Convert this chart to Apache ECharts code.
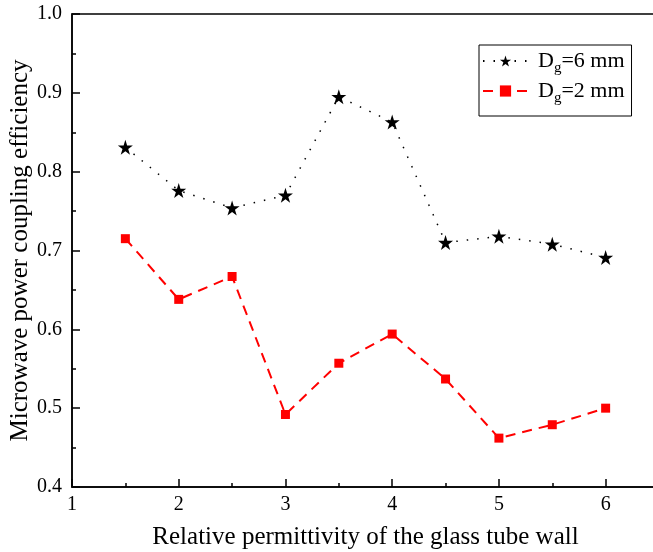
<!DOCTYPE html>
<html>
<head>
<meta charset="utf-8">
<script src="https://cdn.jsdelivr.net/npm/echarts@6/dist/echarts.min.js"></script>
<style>
html, body { margin: 0; padding: 0; background: #fff; overflow: hidden; }
#main { width: 680px; height: 552px; }
</style>
</head>
<body>
<div id="main"></div>
<script>
// relative permittivity (x)
var permittivity = [1.5, 2, 2.5, 3, 3.5, 4, 4.5, 5, 5.5, 6];
// coupling efficiency, Dg = 6 mm
var eff6mm = [0.831, 0.776, 0.754, 0.770, 0.895, 0.863, 0.710, 0.718, 0.708, 0.691];
// coupling efficiency, Dg = 2 mm
var eff2mm = [0.715, 0.638, 0.667, 0.492, 0.557, 0.594, 0.537, 0.462, 0.479, 0.500];
var seriesNames = ['Dg=6 mm', 'Dg=2 mm'];

var FONT = '"Liberation Serif", "DejaVu Serif", serif';
var STAR = 'path://M50 0 L61.2 34.5 L97.6 34.5 L68.2 55.9 L79.4 90.5 L50 69.1 L20.6 90.5 L31.8 55.9 L2.4 34.5 L38.8 34.5 Z';

function pairs(xs, ys) {
  return xs.map(function (x, i) { return [x, ys[i]]; });
}

var chart = echarts.init(document.getElementById('main'));

var axisLine = { lineStyle: { color: '#000', width: 1.5 } };
var tickLine = { color: '#000', width: 1.5 };

chart.setOption({
  animation: false,
  backgroundColor: '#fff',
  grid: {
    left: 72, right: 21, top: 14, bottom: 65,
    outerBoundsMode: 'none',
    show: true, borderColor: '#000', borderWidth: 1.5
  },
  legend: {
    orient: 'vertical',
    left: 479, top: 45,
    borderColor: '#000', borderWidth: 1,
    padding: [5, 7, 10, 3],
    itemWidth: 45, itemHeight: 14, itemGap: 4,
    data: seriesNames,
    formatter: function (name) {
      return '{d|D}{s|g}{t|' + name.slice(2) + '}';
    },
    textStyle: {
      rich: {
        d: { fontFamily: FONT, fontSize: 22, color: '#000', lineHeight: 30, verticalAlign: 'middle', padding: [0, 0, 0, 5] },
        s: { fontFamily: FONT, fontSize: 15, color: '#000', lineHeight: 16, verticalAlign: 'bottom' },
        t: { fontFamily: FONT, fontSize: 22, color: '#000', lineHeight: 30, verticalAlign: 'middle' }
      }
    }
  },
  xAxis: [
    {
      type: 'value', min: 1, max: 6.5, interval: 1, position: 'bottom',
      name: 'Relative permittivity of the glass tube wall',
      nameLocation: 'middle', nameGap: 38, nameMoveOverlap: false,
      nameTextStyle: { fontFamily: FONT, fontSize: 25, color: '#000' },
      axisLine: axisLine,
      axisTick: { inside: true, length: 8, lineStyle: tickLine },
      axisLabel: { fontFamily: FONT, fontSize: 20, color: '#000', margin: 8, showMaxLabel: false },
      splitLine: { show: false }
    },
    {
      type: 'value', min: 1, max: 6.5, interval: 0.5, position: 'bottom',
      axisLine: { show: false },
      axisTick: { inside: true, length: 4, lineStyle: tickLine },
      axisLabel: { show: false },
      splitLine: { show: false }
    }
  ],
  yAxis: [
    {
      type: 'value', min: 0.4, max: 1.0, interval: 0.1, position: 'left',
      name: 'Microwave power coupling efficiency',
      nameLocation: 'middle', nameGap: 39, nameMoveOverlap: false,
      nameTextStyle: { fontFamily: FONT, fontSize: 25, color: '#000' },
      axisLine: axisLine,
      axisTick: { inside: true, length: 8, lineStyle: tickLine },
      axisLabel: {
        fontFamily: FONT, fontSize: 20, color: '#000', margin: 10,
        formatter: function (v) { return v.toFixed(1); }
      },
      splitLine: { show: false }
    },
    {
      type: 'value', min: 0.4, max: 1.0, interval: 0.05, position: 'left',
      axisLine: { show: false },
      axisTick: { inside: true, length: 4, lineStyle: tickLine },
      axisLabel: { show: false },
      splitLine: { show: false }
    }
  ],
  series: [
    {
      name: seriesNames[0], type: 'line',
      data: pairs(permittivity, eff6mm),
      symbol: STAR, symbolSize: 15,
      itemStyle: { color: '#000' },
      lineStyle: { color: '#000', width: 1.5, type: [1.5, 9] },
      z: 3
    },
    {
      name: seriesNames[1], type: 'line',
      data: pairs(permittivity, eff2mm),
      symbol: 'rect', symbolSize: 9,
      itemStyle: { color: '#ff0000' },
      lineStyle: { color: '#ff0000', width: 2, type: [10, 7] }
    }
  ]
});
</script>
</body>
</html>
